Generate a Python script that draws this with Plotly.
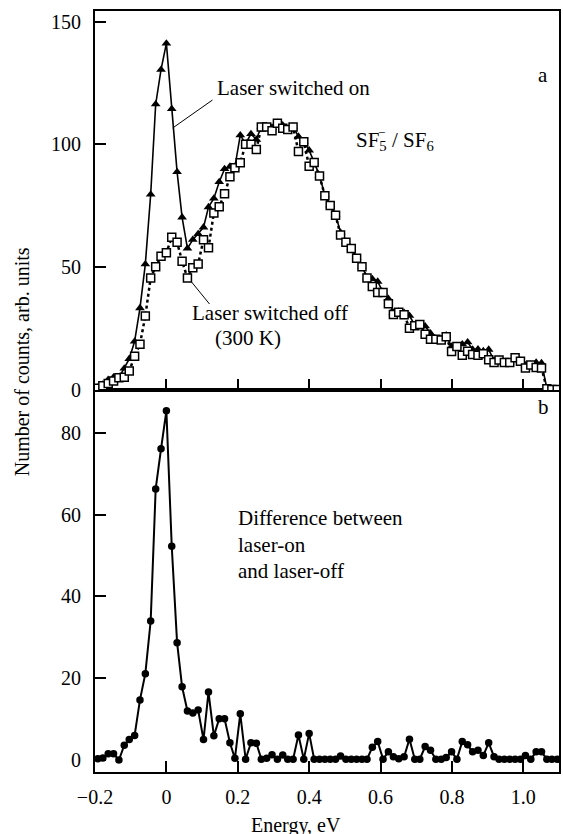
import plotly.graph_objects as go

# ---------------- data ----------------
energy = [-0.192, -0.178, -0.163, -0.148, -0.133, -0.118, -0.104, -0.089, -0.074, -0.059,
          -0.044, -0.030, -0.015, 0.000, 0.015, 0.030, 0.044, 0.059, 0.074, 0.089,
          0.104, 0.118, 0.133, 0.148, 0.163, 0.178, 0.192, 0.207, 0.222, 0.237,
          0.252, 0.266, 0.281, 0.296, 0.311, 0.326, 0.340, 0.355, 0.370, 0.385,
          0.400, 0.414, 0.429, 0.444, 0.459, 0.474, 0.488, 0.503, 0.518, 0.533,
          0.548, 0.562, 0.577, 0.592, 0.607, 0.622, 0.636, 0.651, 0.666, 0.681,
          0.696, 0.710, 0.725, 0.740, 0.755, 0.770, 0.784, 0.799, 0.814, 0.829,
          0.844, 0.858, 0.873, 0.888, 0.903, 0.918, 0.932, 0.947, 0.962, 0.977,
          0.992, 1.006, 1.021, 1.036, 1.051, 1.066, 1.080, 1.095]

laser_on = [0.8, 2.0, 4.0, 5.0, 4.8, 8.6, 12.5, 19.6, 33.2, 51.1,
            79.5, 116.3, 130.4, 141.1, 114.4, 88.7, 70.2, 57.5, 61.1, 63.4,
            66.1, 74.4, 77.9, 84.6, 89.9, 90.9, 90.8, 103.7, 100.2, 104.2,
            101.9, 107.2, 107.4, 106.8, 108.7, 107.7, 106.2, 107.2, 103.1, 101.2,
            97.5, 92.7, 87.2, 79.2, 75.2, 71.2, 64.0, 60.2, 57.7, 53.7,
            50.2, 45.7, 45.1, 44.0, 39.7, 37.0, 31.4, 31.8, 31.3, 30.1,
            26.2, 26.7, 25.8, 22.9, 20.7, 20.4, 22.1, 17.5, 17.7, 18.5,
            19.3, 16.3, 16.4, 15.7, 16.3, 11.8, 12.2, 11.2, 11.2, 13.1,
            11.7, 9.9, 10.2, 11.0, 10.8, 0.5, 0.0, 0.0]

laser_off = [0.5, 1.5, 2.5, 3.5, 4.8, 5.0, 7.5, 13.6, 18.5, 30.0,
             45.5, 50.0, 54.3, 55.7, 62.1, 60.0, 52.3, 45.5, 49.6, 51.2,
             61.1, 57.8, 72.0, 74.5, 79.8, 86.7, 90.4, 92.4, 100.0, 100.0,
             97.8, 107.0, 107.0, 105.5, 108.5, 106.5, 106.0, 107.0, 97.0, 101.0,
             91.0, 92.5, 87.0, 79.0, 75.0, 71.0, 63.0, 60.0, 57.5, 53.5,
             50.0, 45.5, 42.0, 39.5, 39.5, 35.0, 30.6, 31.5, 30.5, 25.0,
             26.0, 26.5, 22.5, 20.5, 20.5, 20.2, 21.5, 15.5, 17.5, 14.0,
             15.6, 14.3, 14.0, 14.6, 12.1, 11.0, 12.0, 11.0, 11.0, 12.9,
             11.5, 8.8, 10.0, 9.0, 8.8, 0.3, 0.0, 0.0]

difference = [0.3, 0.5, 1.5, 1.5, 0.0, 3.6, 5.0, 6.0, 14.7, 21.1,
              34.0, 66.3, 76.1, 85.4, 52.3, 28.7, 17.9, 12.0, 11.5, 12.2,
              5.0, 16.6, 5.9, 10.1, 10.1, 4.2, 0.4, 11.3, 0.2, 4.2,
              4.1, 0.2, 0.4, 1.3, 0.2, 1.2, 0.2, 0.2, 6.1, 0.2,
              6.5, 0.2, 0.2, 0.2, 0.2, 0.2, 1.0, 0.2, 0.2, 0.2,
              0.2, 0.2, 3.1, 4.5, 0.2, 2.0, 0.8, 0.3, 0.8, 5.1,
              0.2, 0.2, 3.3, 2.4, 0.2, 0.2, 0.6, 2.0, 0.2, 4.5,
              3.7, 2.0, 2.4, 1.1, 4.2, 0.8, 0.2, 0.2, 0.2, 0.2,
              0.2, 1.1, 0.2, 2.0, 2.0, 0.2, 0.2, 0.2]

x_tickvals = [-0.2, 0.0, 0.2, 0.4, 0.6, 0.8, 1.0]
x_ticktext = ["\u22120.2", "0", "0.2", "0.4", "0.6", "0.8", "1.0"]
top_tickvals = [0, 50, 100, 150]
bottom_tickvals = [0, 20, 40, 60, 80]

# ---------------- layout geometry (pixels) ----------------
W, H = 563, 834
ML, MR, MT, MB = 95, 2, 11, 62
PW, PH = W - ML - MR, H - MT - MB
SPLIT_PX = 390  # y pixel of border between panels


def px(x, y):
    return (x - ML) / PW, (H - MB - y) / PH


split = px(0, SPLIT_PX)[1]
FONT = "Liberation Serif"

fig = go.Figure()

fig.add_trace(go.Scatter(
    x=energy, y=laser_on, xaxis="x2", yaxis="y2", mode="lines+markers",
    line=dict(color="black", width=1.6),
    marker=dict(symbol="triangle-up", size=8.5, color="black"),
    showlegend=False))
fig.add_trace(go.Scatter(
    x=energy, y=laser_off, xaxis="x2", yaxis="y2", mode="lines+markers",
    line=dict(color="black", width=2.5, dash="dot"),
    marker=dict(symbol="square", size=8, color="white",
                line=dict(color="black", width=1.5)),
    showlegend=False))
fig.add_trace(go.Scatter(
    x=energy, y=difference, xaxis="x", yaxis="y", mode="lines+markers",
    line=dict(color="black", width=2),
    marker=dict(symbol="circle", size=7.5, color="black"),
    showlegend=False))

common_x = dict(range=[-0.2, 1.1], tickvals=x_tickvals, ticks="inside", ticklen=11,
                tickwidth=1.5, tickcolor="black", showline=True, linecolor="black",
                linewidth=2, mirror=True, showgrid=False, zeroline=False)
common_y = dict(ticks="inside", ticklen=11, tickwidth=1.5, tickcolor="black",
                showline=True, linecolor="black", linewidth=2, mirror=True,
                showgrid=False, zeroline=False,
                tickfont=dict(family=FONT, size=20, color="black"),
                ticklabelstandoff=8)

fig.update_layout(
    width=W, height=H,
    margin=dict(l=ML, r=MR, t=MT, b=MB),
    paper_bgcolor="white", plot_bgcolor="white",
    font=dict(family=FONT, color="black"),
    xaxis=dict(**common_x, anchor="y", ticktext=x_ticktext,
               tickfont=dict(family=FONT, size=20, color="black"),
               ticklabelstandoff=6),
    xaxis2=dict(**common_x, anchor="y2", matches="x", showticklabels=False),
    yaxis=dict(**common_y, domain=[0, split], range=[-2.94, 90.5],
               tickvals=bottom_tickvals, anchor="x"),
    yaxis2=dict(**common_y, domain=[split, 1], range=[-0.2, 154.3],
                tickvals=top_tickvals, anchor="x2"),
)


def add_text(text, x, y, xanchor="center", size=21, angle=0):
    xp, yp = px(x, y)
    fig.add_annotation(text=text, x=xp, y=yp, xref="paper", yref="paper",
                       xanchor=xanchor, yanchor="middle", showarrow=False,
                       textangle=angle,
                       font=dict(family=FONT, size=size, color="black"))


def add_line(x0, y0, x1, y1):
    a = px(x0, y0)
    b = px(x1, y1)
    fig.add_shape(type="line", xref="paper", yref="paper",
                  x0=a[0], y0=a[1], x1=b[0], y1=b[1],
                  line=dict(color="black", width=1))


add_text("a", 545, 75)
add_text("b", 545, 407)
add_text("Laser switched on", 216, 88, xanchor="left")
add_line(173, 128, 213, 100)
add_text("SF<sub>5</sub> / SF<sub>6</sub>", 355, 141, xanchor="left")
add_text("\u2212", 383, 132, size=13)
add_text("Laser switched off", 190, 313, xanchor="left")
add_text("(300 K)", 214, 338, xanchor="left")
add_line(192, 282, 210, 304)
add_text("Difference between", 237, 518, xanchor="left")
add_text("laser-on", 237, 545, xanchor="left")
add_text("and laser-off", 237, 571, xanchor="left")
add_text("Energy, eV", 297, 825, size=20)
add_text("Number of counts, arb. units", 22, 362, size=20, angle=-90)

fig.write_html("out.html")
